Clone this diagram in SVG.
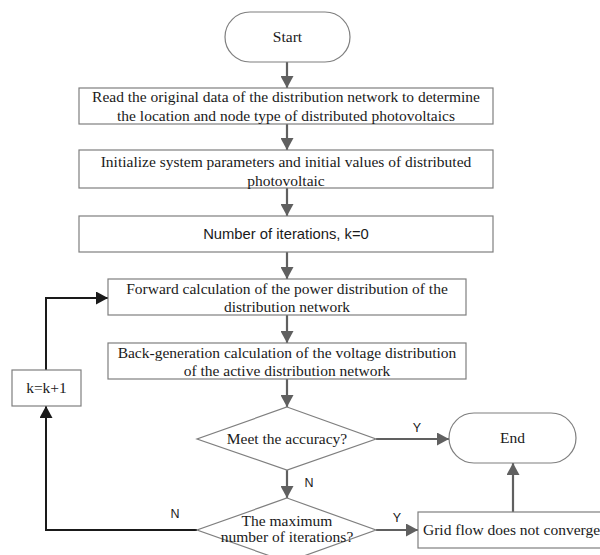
<svg xmlns="http://www.w3.org/2000/svg" width="600" height="555" viewBox="0 0 600 555">
<defs>
<marker id="ag" viewBox="0 0 12 13" refX="12" refY="6.5" markerWidth="12" markerHeight="13" markerUnits="userSpaceOnUse" orient="auto"><path d="M0,0 L12,6.5 L0,13 z" fill="#606060"/></marker>
<marker id="ak" viewBox="0 0 12 13" refX="12" refY="6.5" markerWidth="12" markerHeight="13" markerUnits="userSpaceOnUse" orient="auto"><path d="M0,0 L12,6.5 L0,13 z" fill="#1a1a1a"/></marker>
<style>
.box{fill:#fff;stroke:#7f7f7f;stroke-width:1.2}
.t{font-family:"Liberation Serif","Times New Roman",serif;font-size:15.5px;fill:#1a1a1a;text-anchor:middle}
.s{font-family:"Liberation Sans",Arial,sans-serif;font-size:12.5px;fill:#1a1a1a;text-anchor:middle}
.si{font-family:"Liberation Sans",Arial,sans-serif;font-size:14.8px;fill:#1a1a1a;text-anchor:middle}
.g{stroke:#606060;stroke-width:2.2;fill:none}
.k{stroke:#1a1a1a;stroke-width:2;fill:none}
</style>
</defs>
<rect width="600" height="555" fill="#fff"/>
<g id="connectors">
<path class="g" d="M287,62 V88" marker-end="url(#ag)"/>
<path class="g" d="M287,124 V150" marker-end="url(#ag)"/>
<path class="g" d="M287,188 V216" marker-end="url(#ag)"/>
<path class="g" d="M287,252 V279" marker-end="url(#ag)"/>
<path class="g" d="M287,315 V343" marker-end="url(#ag)"/>
<path class="g" d="M287,379 V407" marker-end="url(#ag)"/>
<path class="g" d="M376,439 H449" marker-end="url(#ag)"/>
<path class="g" d="M287,470 V498" marker-end="url(#ag)"/>
<path class="g" d="M376,530 H418" marker-end="url(#ag)"/>
<path class="g" d="M513,512 V463" marker-end="url(#ag)"/>
<path class="k" d="M197,530 H46 V406" marker-end="url(#ak)"/>
<path class="k" d="M46,370 V298 H108" marker-end="url(#ak)"/>
<text class="s" x="417" y="432">Y</text>
<text class="s" x="309" y="487">N</text>
<text class="s" x="397" y="522">Y</text>
<text class="s" x="175" y="518">N</text>
</g>
<g id="start">
<rect class="box" x="225" y="12" width="125" height="50" rx="25"/>
<text class="t" x="287.5" y="42">Start</text>
</g>
<g id="read">
<rect class="box" x="79" y="88" width="414" height="36"/>
<text class="t" x="286" y="102">Read the original data of the distribution network to determine</text>
<text class="t" x="286" y="121">the location and node type of distributed photovoltaics</text>
</g>
<g id="init">
<rect class="box" x="79" y="150" width="414" height="38"/>
<text class="t" x="286" y="167">Initialize system parameters and initial values of distributed</text>
<text class="t" x="286" y="186">photovoltaic</text>
</g>
<g id="iter">
<rect class="box" x="79" y="216" width="414" height="36"/>
<text class="si" x="286" y="239">Number of iterations, k=0</text>
</g>
<g id="forward">
<rect class="box" x="108" y="279" width="358" height="36"/>
<text class="t" x="287" y="294">Forward calculation of the power distribution of the</text>
<text class="t" x="287" y="312">distribution network</text>
</g>
<g id="back">
<rect class="box" x="108" y="343" width="358" height="36"/>
<text class="t" x="287" y="358">Back-generation calculation of the voltage distribution</text>
<text class="t" x="287" y="376">of the active distribution network</text>
</g>
<g id="kinc">
<rect class="box" x="12" y="370" width="69" height="36"/>
<text class="t" x="46.5" y="393">k=k+1</text>
</g>
<g id="accuracy">
<polygon class="box" points="287,407 376,439 287,470 197,439"/>
<text class="t" x="287" y="444">Meet the accuracy?</text>
</g>
<g id="end">
<rect class="box" x="449" y="413" width="127" height="50" rx="25"/>
<text class="t" x="512.5" y="443">End</text>
</g>
<g id="maxiter">
<polygon class="box" points="287,498 376,530 287,562 197,530"/>
<text class="t" x="287" y="526">The maximum</text>
<text class="t" x="287" y="542">number of iterations?</text>
</g>
<g id="grid">
<rect class="box" x="418" y="512" width="190" height="36"/>
<text class="t" x="423" y="535" style="text-anchor:start">Grid flow does not converge</text>
</g>
</svg>
